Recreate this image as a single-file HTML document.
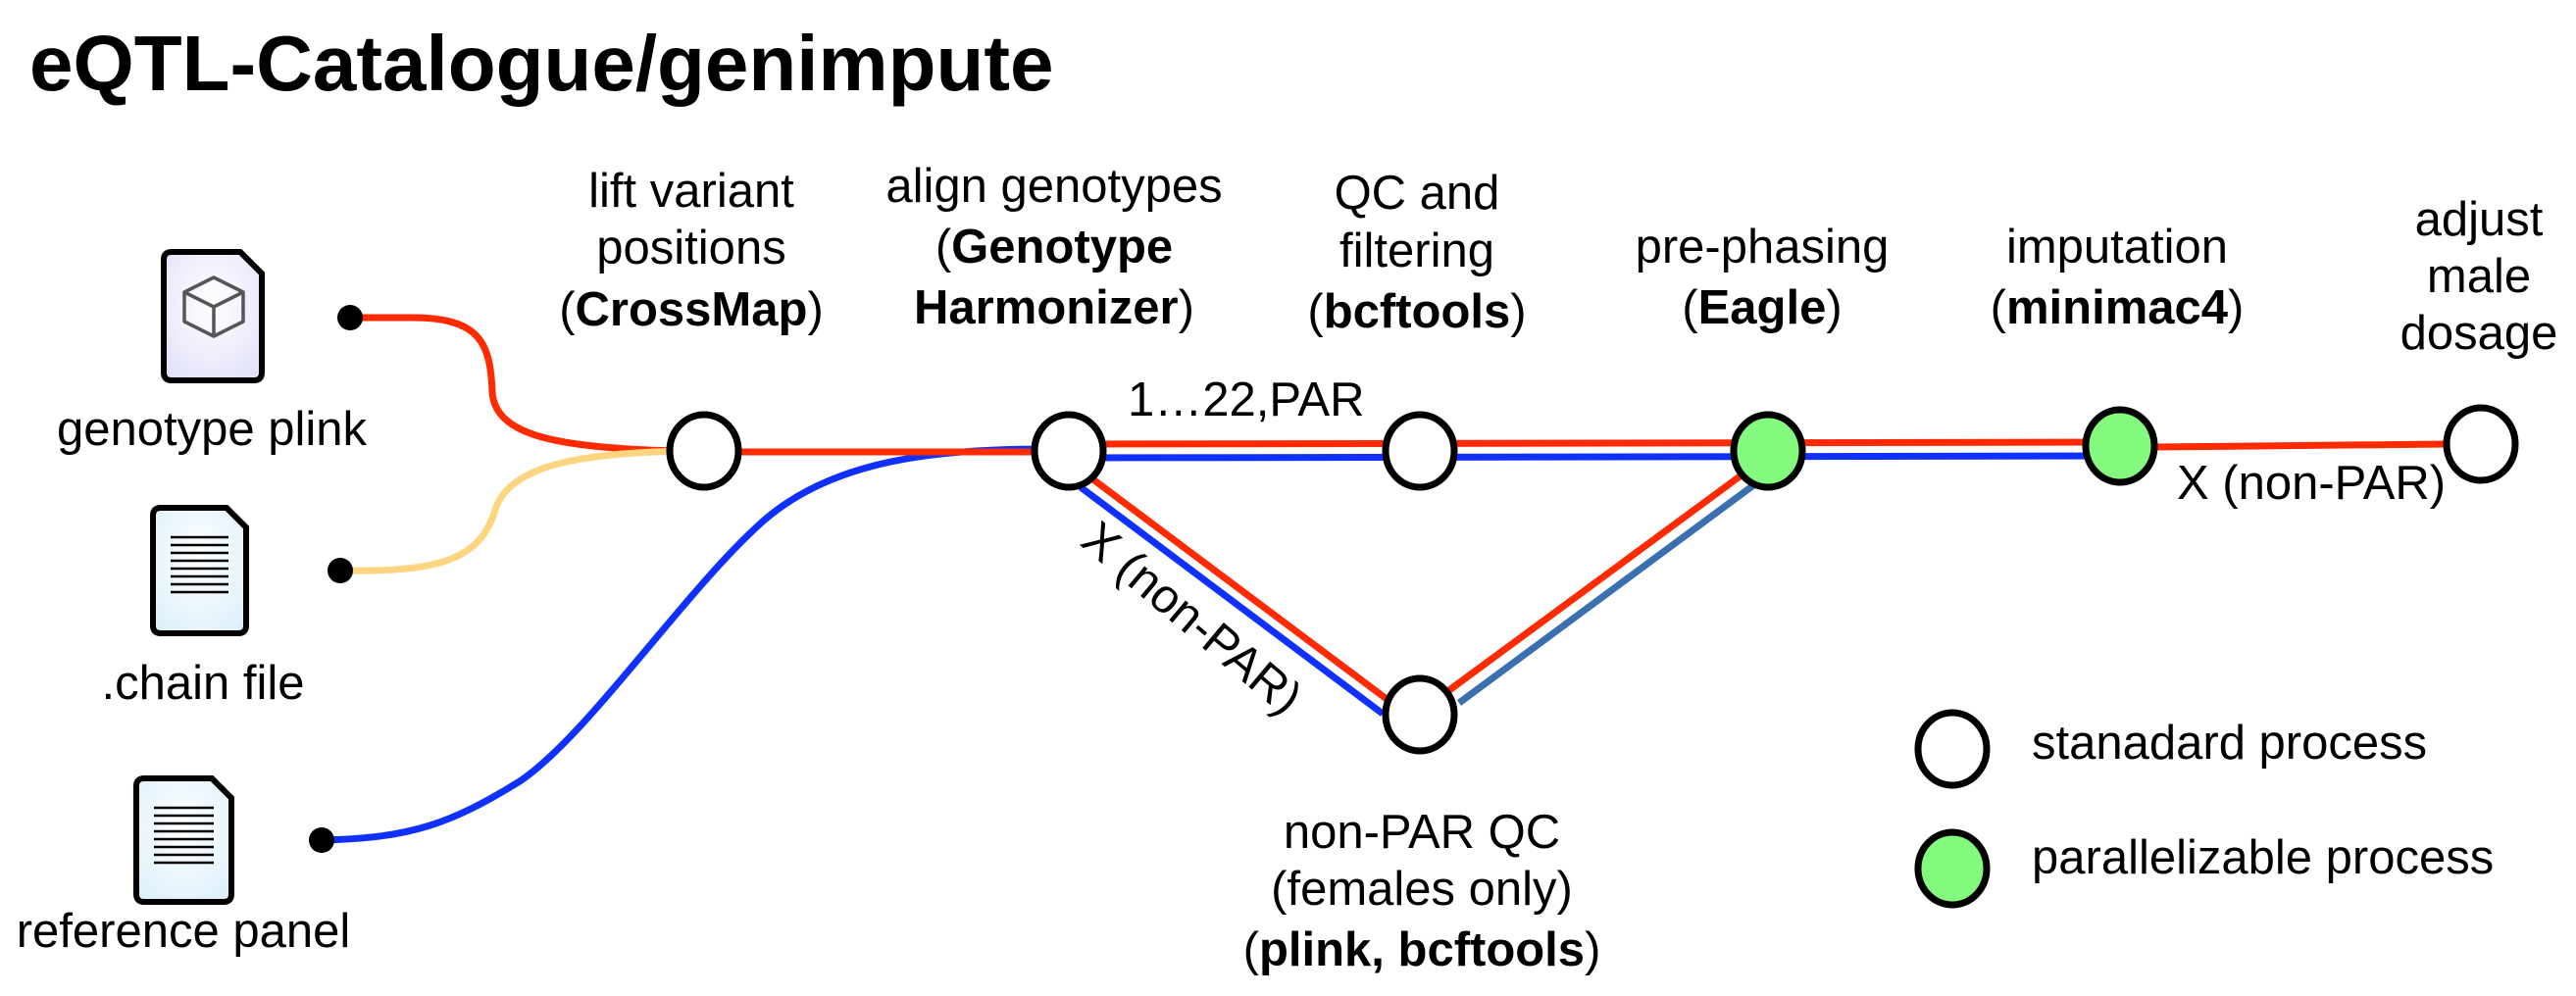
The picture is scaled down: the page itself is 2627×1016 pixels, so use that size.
<!DOCTYPE html>
<html><head><meta charset="utf-8"><style>
html,body{margin:0;padding:0;background:#fff}
svg{display:block}
text{font-family:"Liberation Sans",Arial,sans-serif;fill:#000}
.t{font-size:49px}
.b{font-weight:bold}
</style></head><body>
<svg width="2627" height="1016" viewBox="0 0 2627 1016" xmlns="http://www.w3.org/2000/svg">
<defs>
<radialGradient id="g1" cx="50%" cy="40%" r="70%"><stop offset="0" stop-color="#ffffff"/><stop offset="1" stop-color="#e2e2fa"/></radialGradient>
<radialGradient id="g2" cx="50%" cy="40%" r="70%"><stop offset="0" stop-color="#ffffff"/><stop offset="1" stop-color="#ddf0fb"/></radialGradient>
</defs>
<text x="30" y="92" font-size="80" class="b">eQTL-Catalogue/genimpute</text>

<path d="M357 324 L420 324 C490 324 500 350 502 400 C505 442 560 458 700 460" fill="none" stroke="#ff2a00" stroke-width="7"/>
<path d="M347 582 C450 584 490 570 505 520 C520 472 600 462 700 460" fill="none" stroke="#fdd580" stroke-width="7"/>
<path d="M328 857 C420 855 460 840 530 797 C600 750 700 600 780 530 C850 470 950 458 1070 458" fill="none" stroke="#1030ff" stroke-width="7"/>
<circle cx="357" cy="324" r="13"/><circle cx="347" cy="582" r="13"/><circle cx="328" cy="857" r="13"/>

<line x1="720" y1="461" x2="1060" y2="461" stroke="#ff2a00" stroke-width="7"/>
<line x1="1110" y1="453" x2="2162" y2="451" stroke="#ff2a00" stroke-width="7"/>
<line x1="1110" y1="467" x2="2162" y2="465" stroke="#1030ff" stroke-width="7"/>
<line x1="2195" y1="456" x2="2495" y2="453" stroke="#ff2a00" stroke-width="7"/>
<line x1="1112" y1="487" x2="1418" y2="716" stroke="#ff2a00" stroke-width="7"/>
<line x1="1102" y1="497" x2="1410" y2="728" stroke="#1030ff" stroke-width="7"/>
<line x1="1478" y1="704" x2="1785" y2="478" stroke="#ff2a00" stroke-width="7"/>
<line x1="1488" y1="717" x2="1795" y2="490" stroke="#3a6fb0" stroke-width="7"/>

<g stroke="#000" stroke-width="7">
<ellipse cx="718" cy="460" rx="35" ry="37" fill="#fff"/>
<ellipse cx="1090" cy="460" rx="35" ry="37" fill="#fff"/>
<ellipse cx="1448" cy="460" rx="35" ry="37" fill="#fff"/>
<ellipse cx="1803" cy="460" rx="35" ry="37" fill="#83fa7e"/>
<ellipse cx="2162" cy="455" rx="35" ry="37" fill="#83fa7e"/>
<ellipse cx="2530" cy="453" rx="35" ry="37" fill="#fff"/>
<ellipse cx="1448" cy="729" rx="35" ry="37" fill="#fff"/>
<ellipse cx="1991" cy="764" rx="35" ry="37" fill="#fff"/>
<ellipse cx="1991" cy="886" rx="35" ry="37" fill="#83fa7e"/>
</g>

<path d="M175 257 H245 L267 279 V380 Q267 388 259 388 H175 Q167 388 167 380 V265 Q167 257 175 257 Z" fill="url(#g1)" stroke="#000" stroke-width="6"/>
<g fill="none" stroke="#555" stroke-width="3.5" stroke-linejoin="round">
<path d="M218 283 L248 298 L248 328 L218 343 L188 328 L188 298 Z"/><path d="M188 298 L218 313 L248 298 M218 313 V343"/>
</g>
<path d="M164 518 H231 L251 538 V638 Q251 646 243 646 H164 Q156 646 156 638 V526 Q156 518 164 518 Z" fill="url(#g2)" stroke="#000" stroke-width="6"/>
<g stroke="#000" stroke-width="2.5">
<line x1="174" y1="548" x2="233" y2="548"/><line x1="174" y1="556" x2="233" y2="556"/><line x1="174" y1="564" x2="233" y2="564"/><line x1="174" y1="572" x2="233" y2="572"/><line x1="174" y1="580" x2="233" y2="580"/><line x1="174" y1="588" x2="233" y2="588"/><line x1="174" y1="596" x2="233" y2="596"/><line x1="174" y1="604" x2="233" y2="604"/>
</g>
<path d="M147 794 H216 L236 814 V912 Q236 920 228 920 H147 Q139 920 139 912 V802 Q139 794 147 794 Z" fill="url(#g2)" stroke="#000" stroke-width="6"/>
<g stroke="#000" stroke-width="2.5">
<line x1="157" y1="824" x2="218" y2="824"/><line x1="157" y1="832" x2="218" y2="832"/><line x1="157" y1="840" x2="218" y2="840"/><line x1="157" y1="848" x2="218" y2="848"/><line x1="157" y1="856" x2="218" y2="856"/><line x1="157" y1="864" x2="218" y2="864"/><line x1="157" y1="872" x2="218" y2="872"/><line x1="157" y1="880" x2="218" y2="880"/>
</g>

<g class="t" text-anchor="middle">
<text x="216" y="454">genotype plink</text>
<text x="207" y="713">.chain file</text>
<text x="187" y="966">reference panel</text>
<text x="705" y="211">lift variant</text>
<text x="705" y="269">positions</text>
<text x="705" y="332">(<tspan class="b">CrossMap</tspan>)</text>
<text x="1075" y="206">align genotypes</text>
<text x="1075" y="268">(<tspan class="b">Genotype</tspan></text>
<text x="1075" y="330"><tspan class="b">Harmonizer</tspan>)</text>
<text x="1445" y="213">QC and</text>
<text x="1445" y="272">filtering</text>
<text x="1445" y="334">(<tspan class="b">bcftools</tspan>)</text>
<text x="1797" y="268">pre-phasing</text>
<text x="1797" y="330">(<tspan class="b">Eagle</tspan>)</text>
<text x="2159" y="268">imputation</text>
<text x="2159" y="330">(<tspan class="b">minimac4</tspan>)</text>
<text x="2528" y="240">adjust</text>
<text x="2528" y="298">male</text>
<text x="2528" y="356">dosage</text>
<text x="1450" y="865">non-PAR QC</text>
<text x="1450" y="923">(females only)</text>
<text x="1450" y="985">(<tspan class="b">plink, bcftools</tspan>)</text>
</g>
<text class="t" x="1150" y="424">1…22,PAR</text>
<text class="t" x="2220" y="509">X (non-PAR)</text>
<text class="t" x="1100" y="555" transform="rotate(40 1100 555)">X (non-PAR)</text>
<text class="t" x="2072" y="774">stanadard process</text>
<text class="t" x="2072" y="891">parallelizable process</text>
</svg>
</body></html>
